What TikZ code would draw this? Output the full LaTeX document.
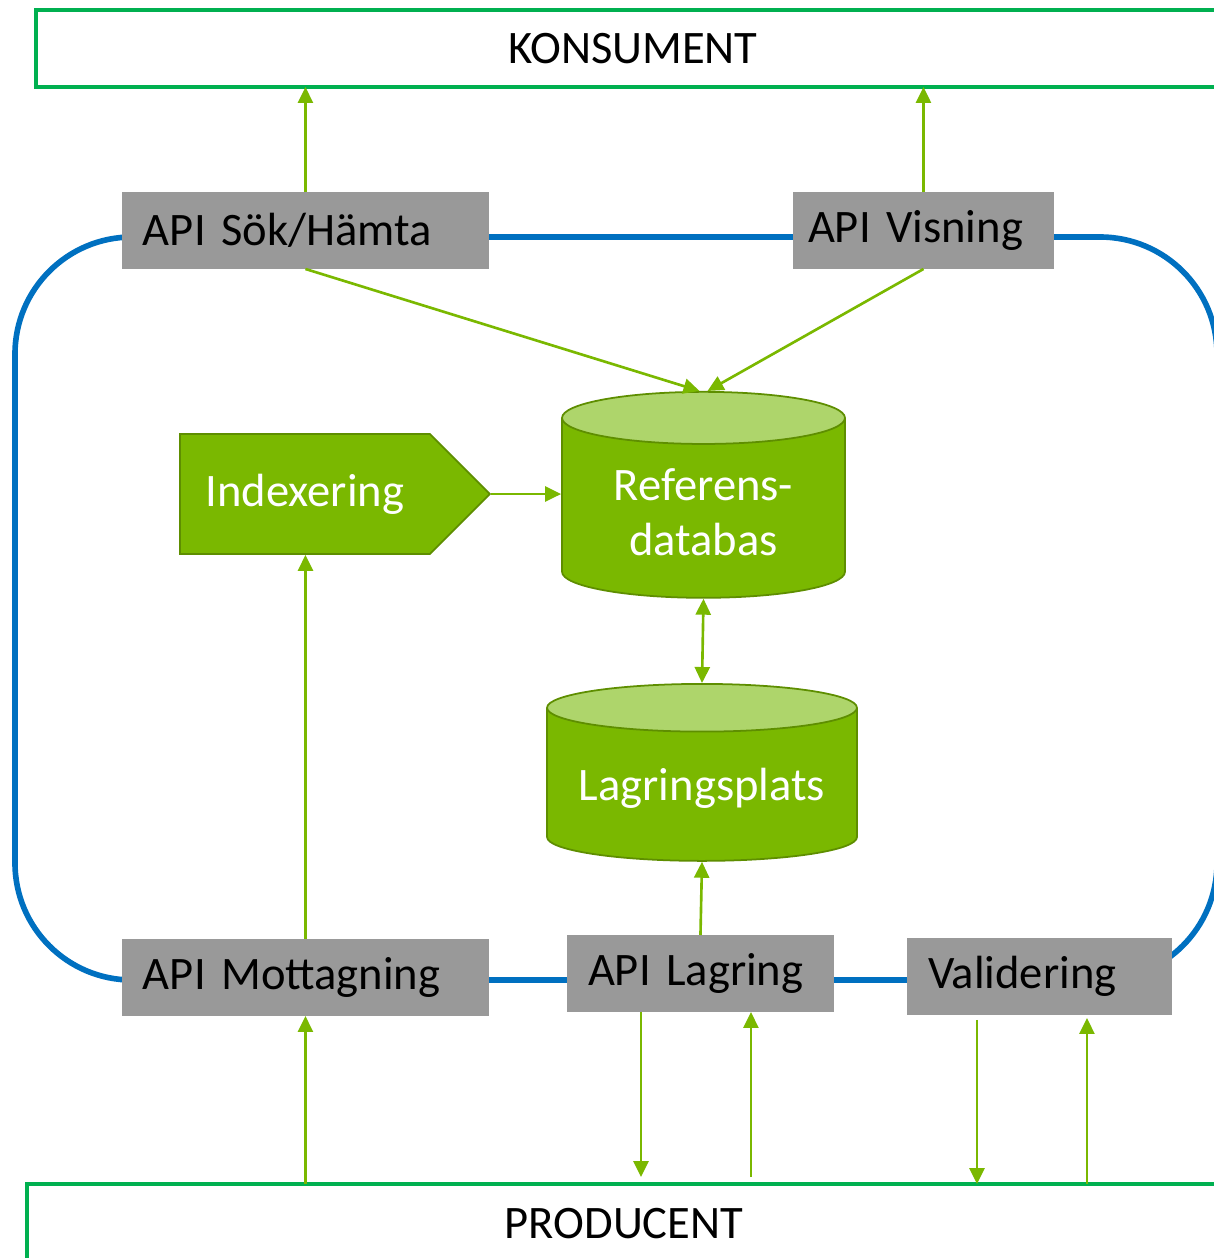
\documentclass[tikz,border=0pt]{standalone}
\usepackage{fontspec}
\setmainfont{Carlito}
\usepackage{xcolor}
\usepackage{tikz}
\usetikzlibrary{shapes,arrows.meta,positioning}

\definecolor{kantgron}{HTML}{00B050}
\definecolor{pilgron}{HTML}{7AB800}
\definecolor{morkgron}{HTML}{5E8E00}
\definecolor{ljusgron}{HTML}{AED56B}
\definecolor{apiblue}{HTML}{0070C0}
\definecolor{apigra}{HTML}{999999}

\tikzset{
    textstor/.style={font=\fontsize{26.5}{31}\selectfont},
    apibox/.style={
        textstor,
        fill=apigra,
        inner xsep=0.42cm,
        inner ysep=0pt,
        outer sep=0pt,
        minimum height=1.54cm,
        align=left,
        anchor=north west
    },
    partbox/.style={
        textstor,
        draw=kantgron,
        line width=2pt,
        outer sep=0pt,
        minimum width=23.88cm,
        minimum height=1.54cm,
        anchor=north west
    },
    databas/.style={
        textstor,
        cylinder,
        shape border rotate=90,
        draw=morkgron,
        line width=1pt,
        cylinder uses custom fill,
        cylinder body fill=pilgron,
        cylinder end fill=ljusgron,
        text=white,
        align=center
    },
    flode/.style={
        -{Triangle[length=0.32cm,width=0.3cm]},
        line width=1.5pt,
        draw=pilgron
    },
    dubbelflode/.style={
        flode,
        {Triangle[length=0.32cm,width=0.3cm]}-{Triangle[length=0.32cm,width=0.3cm]}
    }
}

\begin{document}
\begin{tikzpicture}[x=0.02cm,y=-0.02cm]
                \clip (0,0) rectangle (1214,1258);

                % konsument och producent
                \node[partbox] (kons) at (36,10) {KONSUMENT};
                \node[partbox, minimum height=1.6cm] (prod) at (27,1184) {PRODUCENT};

                % blå slinga bakom API-lådorna
                \draw[
                    apiblue,
                    line width=3.2pt,
                    rounded corners=2.34cm
                ] (15,237) rectangle (1217,980);

                \node[apibox, text width=6.5cm] (sok) at (122,192) {API Sök/Hämta};
                \node[apibox, text width=4.62cm, inner xsep=0.3cm] (visning) at (793,192) {API Visning};
                \node[apibox, text width=6.5cm] (mottag) at (122,939) {API Mottagning};
                \node[apibox, text width=4.5cm] (lagapi) at (567,935) {API Lagring};
                \node[apibox, text width=4.46cm] (valid) at (907,938) {Validering};

                \node[
                    textstor,
                    signal,
                    signal to=east,
                    signal pointer angle=90,
                    draw=morkgron,
                    line width=1pt,
                    fill=pilgron,
                    text=white,
                    minimum width=6.2cm,
                    minimum height=2.4cm
                ] (index) at (305,494) {Indexering};

                \node[
                    databas,
                    minimum width=5.66cm,
                    minimum height=4.12cm,
                    aspect=0.273
                ] (refdb) at (703.5,512) {Referens-\\databas};

                \node[
                    databas,
                    minimum width=6.2cm,
                    minimum height=3.54cm,
                    aspect=0.185
                ] (lagr) at (702,788) {Lagringsplats};

                % pilar
                \draw[flode] (sok.north) -- (sok.north |- kons.south);
                \draw[flode] (visning.north) -- (visning.north |- kons.south);
                \draw[flode] (sok.south) -- ([xshift=-0.08cm]refdb.north);
                \draw[flode] (visning.south) -- ([xshift=0.08cm]refdb.north);
                \draw[flode] (index.east) -- (index.east -| refdb.west);
                \draw[flode] (mottag.north) -- (mottag.north |- index.south);
                \draw[dubbelflode] (refdb.south) -- (lagr.north);
                \draw[flode] (lagapi.north) -- (lagr.south);
                \draw[flode] (mottag.south |- prod.north) -- (mottag.south);
                \draw[flode] ([xshift=-1.19cm]lagapi.south) -- ([xshift=-1.19cm,yshift=0.14cm]lagapi.south |- prod.north);
                \draw[flode] ([xshift=1.01cm,yshift=0.14cm]lagapi.south |- prod.north) -- ([xshift=1.01cm]lagapi.south);
                \draw[flode] ([xshift=-1.25cm,yshift=-0.1cm]valid.south) -- ([xshift=-1.25cm]valid.south |- prod.north);
                \draw[flode] ([xshift=0.95cm]valid.south |- prod.north) -- ([xshift=0.95cm,yshift=-0.06cm]valid.south);

            \end{tikzpicture}
\end{document}
